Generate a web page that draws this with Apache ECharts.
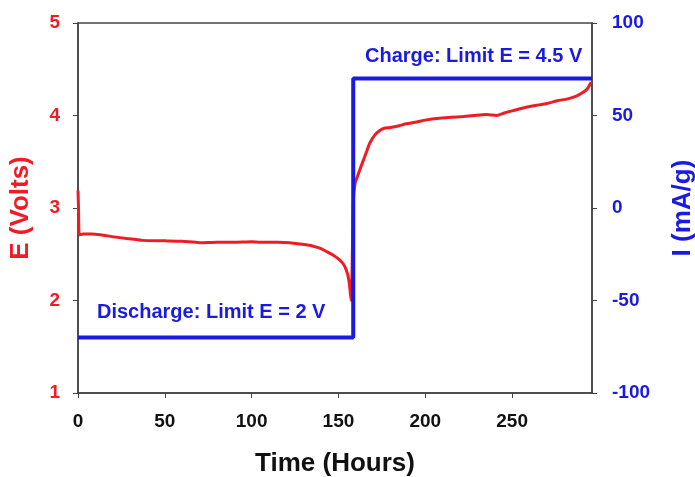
<!DOCTYPE html>
<html>
<head>
<meta charset="utf-8">
<script src="https://cdn.jsdelivr.net/npm/echarts@6/dist/echarts.min.js"></script>
<style>
  html, body { margin: 0; padding: 0; background: #fff; }
  #chart { width: 695px; height: 477px; }
</style>
</head>
<body>
<div id="chart"></div>
<script>
// potential (red, left axis)
var eTime = [0, 0.3, 0.8, 3, 8, 13, 20, 28, 37, 50, 60, 70, 80, 90, 100, 105, 115, 122, 128, 135, 140, 143, 147, 150, 152.6, 154.5, 156, 157.3,
    158.6, 159.6, 160.5, 163, 166, 168, 171, 174, 176, 180, 185, 189, 195, 200, 208, 215, 222, 228, 235, 241, 246, 252, 258, 264, 270, 276, 282, 287, 290, 293, 295.5];
var eVolts = [3.19, 3.0, 2.71, 2.72, 2.72, 2.71, 2.69, 2.67, 2.65, 2.645, 2.64, 2.625, 2.63, 2.63, 2.635, 2.63, 2.63, 2.625, 2.61, 2.59, 2.56, 2.53, 2.49, 2.45, 2.40, 2.33, 2.22, 2.0,
    3.1, 3.27, 3.32, 3.45, 3.6, 3.70, 3.79, 3.84, 3.86, 3.87, 3.89, 3.91, 3.93, 3.95, 3.97, 3.98, 3.99, 4.0, 4.01, 4.0, 4.03, 4.06, 4.09, 4.11, 4.13, 4.16, 4.18, 4.21, 4.24, 4.28, 4.36];

// current (blue, right axis)
var iTime = [0, 158.5, 158.5, 296];
var iCurrent = [-70, -70, 70, 70];

var xTicks = [0, 50, 100, 150, 200, 250];

var red = '#ee1c24';
var blue = '#1a1ae0';
var font = 'Liberation Sans, Arial, sans-serif';

function pairs(xs, ys) {
    var out = [];
    for (var i = 0; i < xs.length; i++) out.push([xs[i], ys[i]]);
    return out;
}

var chart = echarts.init(document.getElementById('chart'));
var option = {
    animation: false,
    grid: { left: 78, right: 103, top: 23, bottom: 84, outerBoundsMode: 'none', containLabel: false,
        show: true, borderColor: '#444', borderWidth: 1.5 },
    xAxis: {
        type: 'value', min: 0, max: 296, interval: 50,
        name: 'Time (Hours)', nameLocation: 'middle', nameGap: 58,
        nameTextStyle: { fontFamily: font, fontWeight: 'bold', fontSize: 26, color: '#111' },
        axisLine: { onZero: false, lineStyle: { color: '#444', width: 1.5 } },
        axisTick: { show: true, length: 5, lineStyle: { color: '#444' } },
        splitLine: { show: false },
        axisLabel: {
            showMaxLabel: false, margin: 19, fontFamily: font, fontWeight: 'bold', fontSize: 19, color: '#111',
            formatter: function (v) { return xTicks.indexOf(v) >= 0 ? String(v) : ''; }
        }
    },
    yAxis: [{
        type: 'value', min: 1, max: 5, interval: 1, position: 'left',
        name: 'E (Volts)', nameLocation: 'middle', nameGap: 44,
        nameTextStyle: { fontFamily: font, fontWeight: 'bold', fontSize: 26, color: red },
        axisLine: { show: true, onZero: false, lineStyle: { color: '#444', width: 1.5 } },
        axisTick: { show: true, length: 5, lineStyle: { color: '#444' } },
        splitLine: { show: false },
        axisLabel: { margin: 18, fontFamily: font, fontWeight: 'bold', fontSize: 19, color: red }
    }, {
        type: 'value', min: -100, max: 100, interval: 50, position: 'right',
        name: 'I (mA/g)', nameLocation: 'middle', nameGap: 78,
        nameTextStyle: { fontFamily: font, fontWeight: 'bold', fontSize: 26, color: blue },
        axisLine: { show: true, onZero: false, lineStyle: { color: '#444', width: 1.5 } },
        axisTick: { show: true, length: 5, lineStyle: { color: '#444' } },
        splitLine: { show: false },
        axisLabel: { margin: 20, fontFamily: font, fontWeight: 'bold', fontSize: 19, color: blue }
    }],
    graphic: [
        { type: 'text', left: 97, top: 302, style: { text: 'Discharge: Limit E = 2 V', fill: blue, font: 'bold 20px ' + font } },
        { type: 'text', left: 365, top: 46, style: { text: 'Charge: Limit E = 4.5 V', fill: blue, font: 'bold 20px ' + font } }
    ],
    series: [{
        type: 'line', name: 'E', yAxisIndex: 0, data: pairs(eTime, eVolts),
        showSymbol: false, smooth: 0.2, lineStyle: { color: red, width: 3 }
    }, {
        type: 'line', name: 'I', yAxisIndex: 1, data: pairs(iTime, iCurrent),
        showSymbol: false, lineStyle: { color: blue, width: 4 }
    }]
};
chart.setOption(option);
</script>
</body>
</html>
